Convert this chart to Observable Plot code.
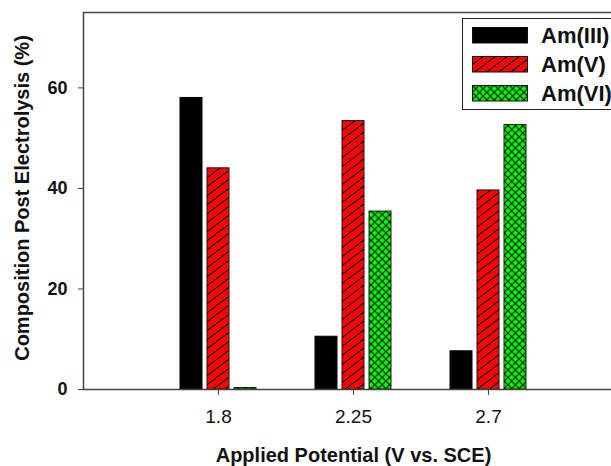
<!DOCTYPE html>
<html>
<head>
<meta charset="utf-8">
<script src="https://cdn.jsdelivr.net/npm/d3@7"></script>
<script src="https://cdn.jsdelivr.net/npm/@observablehq/plot@0.6"></script>
<style>
  html, body { margin: 0; padding: 0; background: #fff; overflow: hidden; }
  #wrap { position: relative; width: 611px; height: 466px; overflow: hidden; font-family: "Liberation Sans", Arial, sans-serif; }
  #wrap > svg { max-width: none !important; }
  #legend { position: absolute; left: 462px; top: 18px; width: 170px; height: 92px; border: 1.5px solid #222; background: #fff; box-sizing: border-box; }
  .row { position: absolute; left: 9px; height: 17px; display: flex; align-items: center; }
  .row svg { display: block; }
  .row span { margin-left: 13px; font-weight: bold; font-size: 22px; color: #111; line-height: 17px; white-space: nowrap; }
</style>
</head>
<body>
<div id="wrap"></div>
<script>
// ---- data ----
const potentials = ["1.8", "2.25", "2.7"];
const series = ["Am(III)", "Am(V)", "Am(VI)"];
const amIII = [58.0, 10.5, 7.6];
const amV = [44.0, 53.4, 39.6];
const amVI = [0.3, 35.4, 52.6];
const yTicks = [0, 20, 40, 60];
const xTitle = "Applied Potential (V vs. SCE)";
const yTitle = "Composition Post Electrolysis (%)";

const valuesBySeries = [amIII, amV, amVI];
const fills = ["#000000", "url(#hatchRed)", "url(#crossGreen)"];
const strokes = ["#000000", "#1a1a1a", "#1a1a1a"];

const rows = series.map((s, i) => potentials.map((p, j) => ({potential: p, series: s, value: valuesBySeries[i][j]})));

const barMarks = rows.map((data, i) => Plot.barY(data, {
  x: "potential",
  y: "value",
  fill: fills[i],
  stroke: strokes[i],
  strokeWidth: 1,
  dx: (i - 1) * 27
}));

const chart = Plot.plot({
  width: 623,
  height: 466,
  marginLeft: 83,
  marginRight: 0,
  marginTop: 12,
  marginBottom: 77,
  style: {fontFamily: "Liberation Sans, Arial, sans-serif", background: "white", color: "#111", maxWidth: "none"},
  x: {type: "band", domain: potentials, paddingInner: 0.837, paddingOuter: 0.9185},
  y: {domain: [0, 75]},
  marks: [
    ...barMarks,
    Plot.frame({stroke: "#444", strokeWidth: 1.5}),
    Plot.axisY({ticks: yTicks, tickSize: 5, tickPadding: 11, fontSize: 18, fontWeight: "bold", label: null, stroke: "#444"}),
    Plot.axisX({tickSize: 6, tickPadding: 14, fontSize: 19, label: null, stroke: "#444"}),
    Plot.text([xTitle], {text: d => d, frameAnchor: "bottom", textAnchor: "middle", lineAnchor: "middle", dy: 66, fontSize: 20, fontWeight: "bold", fill: "#111"}),
    Plot.text([yTitle], {text: d => d, frameAnchor: "left", textAnchor: "middle", lineAnchor: "middle", rotate: -90, dx: -61, dy: -3, fontSize: 20, fontWeight: "bold", fill: "#111"})
  ]
});

// pattern definitions used by the bar fills
const svg = d3.select(chart);
const defs = svg.insert("defs", ":first-child");
function addPatterns(defs) {
  const r = defs.append("pattern").attr("id", "hatchRed").attr("patternUnits", "userSpaceOnUse")
    .attr("width", 12).attr("height", 9);
  r.append("rect").attr("width", 12).attr("height", 9).attr("fill", "#ff0000");
  r.append("path").attr("d", "M-3,11.25 L15,-2.25").attr("stroke", "#000").attr("stroke-width", 1.1);
  const g = defs.append("pattern").attr("id", "crossGreen").attr("patternUnits", "userSpaceOnUse")
    .attr("width", 7.4).attr("height", 7.4);
  g.append("rect").attr("width", 7.4).attr("height", 7.4).attr("fill", "#00ff00");
  g.append("path").attr("d", "M-1,-1 L8.4,8.4 M-1,8.4 L8.4,-1").attr("stroke", "#000").attr("stroke-width", 1.1);
}
addPatterns(defs);

const wrap = document.getElementById("wrap");
wrap.appendChild(chart);

// legend
const legend = document.createElement("div");
legend.id = "legend";
const rowTops = [8, 37, 66];
series.forEach((s, i) => {
  const row = document.createElement("div");
  row.className = "row";
  row.style.top = rowTops[i] + "px";
  const sw = d3.create("svg").attr("width", 56).attr("height", 17);
  sw.append("rect").attr("x", 0.5).attr("y", 0.5).attr("width", 55).attr("height", 15.5)
    .attr("fill", fills[i]).attr("stroke", "#111").attr("stroke-width", 1);
  row.appendChild(sw.node());
  const t = document.createElement("span");
  t.textContent = s;
  row.appendChild(t);
  legend.appendChild(row);
});
wrap.appendChild(legend);
</script>
</body>
</html>
